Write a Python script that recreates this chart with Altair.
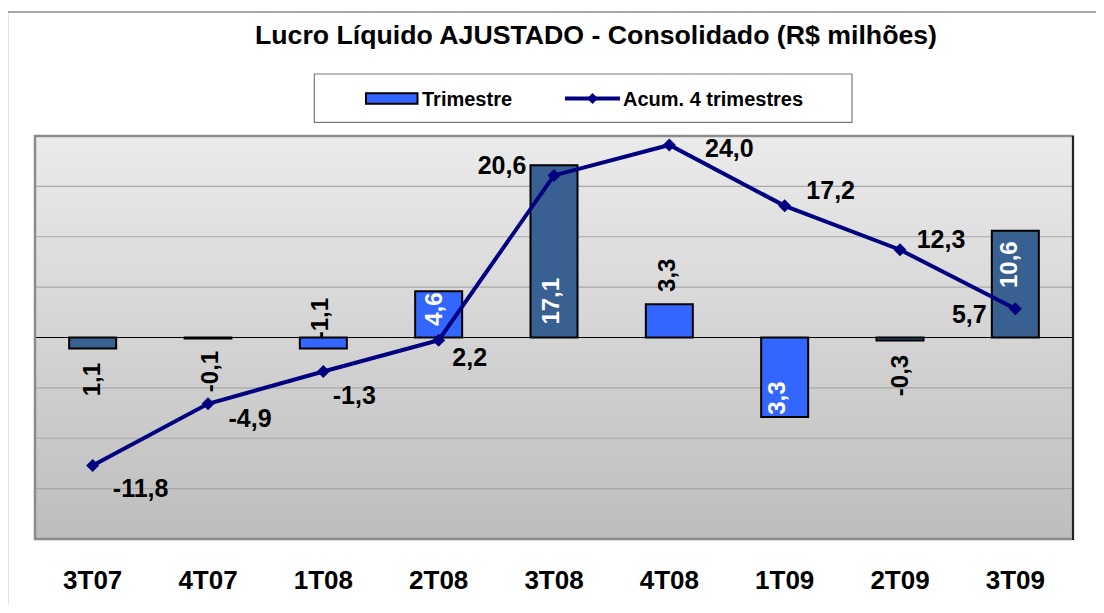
import altair as alt
import pandas as pd

# ---------------- data ----------------
categories = ["3T07", "4T07", "1T08", "2T08", "3T08", "4T08", "1T09", "2T09", "3T09"]
trimestre = [-1.1, -0.1, -1.1, 4.6, 17.1, 3.3, -7.9, -0.3, 10.6]
trimestre_labels = ["1,1", "-0,1", "-1,1", "4,6", "17,1", "3,3", "3,3", "-0,3", "10,6"]
acumulado = [-11.8, -4.9, -1.3, 2.2, 20.6, 24.0, 17.2, 12.3, 5.7]
acumulado_labels = ["-11,8", "-4,9", "-1,3", "2,2", "20,6", "24,0", "17,2", "12,3", "5,7"]
grid_values = [-15, -10, -5, 5, 10, 15]

title_text = "Lucro Líquido AJUSTADO - Consolidado (R$ milhões)"
legend_bar = "Trimestre"
legend_line = "Acum. 4 trimestres"

# ---------------- styles ----------------
DARK = "#386192"
BRIGHT = "#3366FF"
NAVY = "#000080"
bar_fills = [DARK, DARK, BRIGHT, BRIGHT, DARK, BRIGHT, BRIGHT, DARK, DARK]
bar_label_colors = ["black", "black", "black", "white", "white", "black", "white", "black", "white"]
# screen offsets (x, y) of bar labels from bar end
bar_label_off = [(0, 31), (3, 33), (-2, -30), (-3.5, 18), (-2, 136), (-1, -29),
                 (-6.5, -19), (1, 35), (-5.5, 34)]
# screen offsets (x, y) of line labels from point
line_label_off = [(48, 23), (42, 15), (31, 24), (31, 18), (-52, -9), (60, 4),
                  (46, -15), (41, -10), (-46, 6)]

FONT = "Liberation Sans"
W, H = 1038, 403
BAR_DOMAIN = [-20, 20]
LINE_DOMAIN = [-20, 25]

df = pd.DataFrame({
    "cat": categories,
    "trim": trimestre,
    "trim_lbl": trimestre_labels,
    "acum": acumulado,
    "acum_lbl": acumulado_labels,
    "fill": bar_fills,
    "lblcolor": bar_label_colors,
})
one = pd.DataFrame({"k": [0]})

xenc = alt.X(
    "cat:N",
    sort=categories,
    scale=alt.Scale(domain=categories, paddingInner=0, paddingOuter=0),
    axis=alt.Axis(
        title=None, labelAngle=0, labelFontSize=26, labelFont=FONT,
        labelFontWeight="bold", labelColor="black", ticks=False, tickSize=0,
        domain=False, grid=False, labelPadding=49, labelBaseline="alphabetic",
    ),
)
ybar = lambda f: alt.Y(f, scale=alt.Scale(domain=BAR_DOMAIN, nice=False, zero=False), axis=None)
yline = lambda f: alt.Y(f, scale=alt.Scale(domain=LINE_DOMAIN, nice=False, zero=False), axis=None)

# ---------------- bar group ----------------
bg = alt.Chart(one).mark_rect(
    fill={"gradient": "linear", "x1": 0, "y1": 0, "x2": 0, "y2": 1,
          "stops": [{"offset": 0, "color": "#EBEBEB"}, {"offset": 1, "color": "#BDBDBD"}]},
    stroke=None,
).encode(x=alt.value(0), x2=alt.value(W), y=alt.value(0), y2=alt.value(H))

grid = alt.Chart(pd.DataFrame({"g": grid_values})).mark_rule(
    color="#A8A8A8", strokeWidth=1.2
).encode(y=ybar("g:Q"), x=alt.value(0), x2=alt.value(W))

zero = alt.Chart(pd.DataFrame({"z": [0]})).mark_rule(
    color="black", strokeWidth=1.2
).encode(y=ybar("z:Q"), x=alt.value(0), x2=alt.value(W))

bars = alt.Chart(df).mark_bar(
    width=47, stroke="black", strokeWidth=2
).encode(
    x=xenc,
    y=ybar("trim:Q"),
    y2=alt.datum(0),
    fill=alt.Fill("fill:N", scale=None),
)

bar_label_layers = []
for i, c in enumerate(categories):
    sx, sy = bar_label_off[i]
    bar_label_layers.append(
        alt.Chart(df).transform_filter(alt.datum.cat == c).mark_text(
            angle=270, align="center", baseline="middle", font=FONT,
            fontSize=24, fontWeight="bold", dx=-sy, dy=sx,
        ).encode(
            x=xenc, y=ybar("trim:Q"), text="trim_lbl:N",
            color=alt.Color("lblcolor:N", scale=None),
        )
    )

bar_group = alt.layer(bg, grid, zero, bars, *bar_label_layers)

# ---------------- line group ----------------
line = alt.Chart(df).mark_line(color=NAVY, strokeWidth=4).encode(
    x=xenc, y=yline("acum:Q"), order=alt.Order("idx:Q")
).transform_window(idx="row_number()")

points = alt.Chart(df).mark_point(
    shape="diamond", filled=True, color=NAVY, size=170, opacity=1
).encode(x=xenc, y=yline("acum:Q"))

line_label_layers = []
for i, c in enumerate(categories):
    dx, dy = line_label_off[i]
    line_label_layers.append(
        alt.Chart(df).transform_filter(alt.datum.cat == c).mark_text(
            align="center", baseline="middle", font=FONT, fontSize=25,
            fontWeight="bold", color="black", dx=dx, dy=dy,
        ).encode(x=xenc, y=yline("acum:Q"), text="acum_lbl:N")
    )

line_group = alt.layer(line, points, *line_label_layers)

# ---------------- decorations ----------------
outer = alt.Chart(one).mark_rect(fillOpacity=0, stroke="#8A8A8A", strokeWidth=1.5).encode(
    x=alt.value(-27.5), x2=alt.value(1080), y=alt.value(-124), y2=alt.value(500)
)
plot_border = alt.Chart(one).mark_rect(fillOpacity=0, stroke="#8C8C8C", strokeWidth=2.5).encode(
    x=alt.value(0), x2=alt.value(W), y=alt.value(0), y2=alt.value(H)
)
plot_right = alt.Chart(one).mark_rule(color="#222222", strokeWidth=2).encode(
    x=alt.value(W), y=alt.value(0), y2=alt.value(H + 1)
)

leg_box = alt.Chart(one).mark_rect(fill="white", stroke="#7A7A7A", strokeWidth=1.2).encode(
    x=alt.value(279.3), x2=alt.value(817), y=alt.value(-62), y2=alt.value(-13.7)
)
leg_swatch = alt.Chart(one).mark_rect(fill=BRIGHT, stroke="black", strokeWidth=2).encode(
    x=alt.value(331), x2=alt.value(382.5), y=alt.value(-42.8), y2=alt.value(-32.2)
)
leg_rule = alt.Chart(one).mark_rule(color=NAVY, strokeWidth=4).encode(
    x=alt.value(530), x2=alt.value(585), y=alt.value(-37.5)
)
leg_point = alt.Chart(one).mark_point(shape="diamond", filled=True, color=NAVY, size=120, opacity=1).encode(
    x=alt.value(557.5), y=alt.value(-37.5)
)
leg_t1 = alt.Chart(one).mark_text(
    align="left", baseline="middle", font=FONT, fontSize=20, fontWeight="bold", color="black"
).encode(x=alt.value(387), y=alt.value(-36.4), text=alt.value(legend_bar))
leg_t2 = alt.Chart(one).mark_text(
    align="left", baseline="middle", font=FONT, fontSize=20, fontWeight="bold", color="black"
).encode(x=alt.value(588), y=alt.value(-36.4), text=alt.value(legend_line))

title = alt.Chart(one).mark_text(
    align="center", baseline="alphabetic", font=FONT, fontSize=26.7, fontWeight="bold", color="black"
).encode(x=alt.value(561), y=alt.value(-91.7), text=alt.value(title_text))

chart = alt.layer(
    outer, bar_group, line_group, plot_border, plot_right,
    leg_box, leg_swatch, leg_rule, leg_point, leg_t1, leg_t2, title,
).resolve_scale(y="independent").properties(
    width=W, height=H,
    autosize=alt.AutoSizeParams(type="none"),
    padding={"left": 27, "top": 128, "right": 23, "bottom": 66},
).configure_view(stroke=None).configure(background="white")

chart.save("out.html", embed_options={"renderer": "svg", "actions": False})
